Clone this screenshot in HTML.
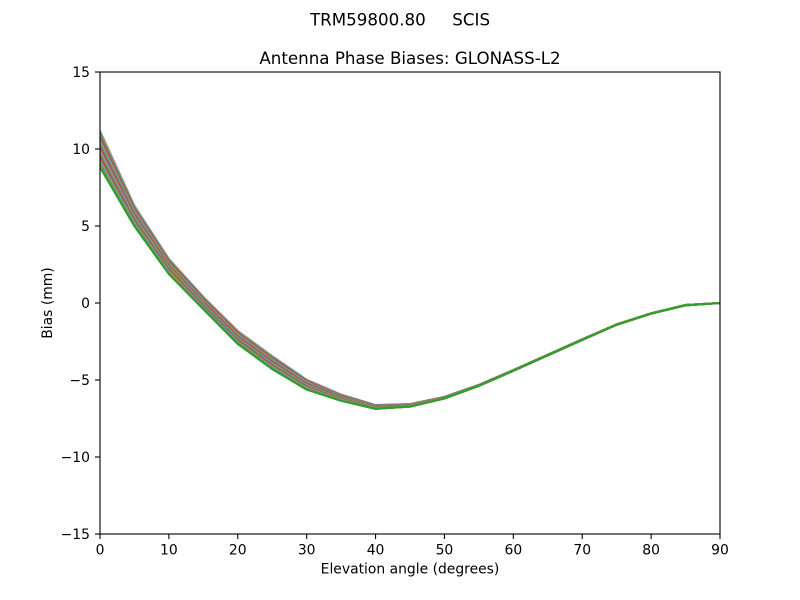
<!DOCTYPE html>
<html>
<head>
<meta charset="utf-8">
<style>
  html, body { margin: 0; padding: 0; background: #fff; }
  svg { display: block; }
  text { font-family: "DejaVu Sans", "Liberation Sans", sans-serif; fill: #000; }
</style>
</head>
<body>
<svg id="chart" width="800" height="600" viewBox="0 0 800 600" xmlns="http://www.w3.org/2000/svg">
  <rect x="0" y="0" width="800" height="600" fill="#fff"/>
  <text x="400" y="25.5" font-size="16.7" text-anchor="middle" style="white-space:pre">TRM59800.80     SCIS</text>
  <text x="410" y="64" font-size="16.7" text-anchor="middle">Antenna Phase Biases: GLONASS-L2</text>

  <defs>
    <clipPath id="clip"><rect x="100" y="72" width="620" height="462"/></clipPath>
  </defs>
  <g id="lines" clip-path="url(#clip)" fill="none" stroke-width="2.08" stroke-linejoin="round" stroke-linecap="square"></g>

  <!-- spines -->
  <rect x="100" y="72" width="620" height="462" fill="none" stroke="#000" stroke-width="1.1"/>

  <!-- y ticks -->
  <g stroke="#000" stroke-width="1.1">
    <line x1="95" y1="72" x2="100" y2="72"/>
    <line x1="95" y1="149" x2="100" y2="149"/>
    <line x1="95" y1="226" x2="100" y2="226"/>
    <line x1="95" y1="303" x2="100" y2="303"/>
    <line x1="95" y1="380" x2="100" y2="380"/>
    <line x1="95" y1="457" x2="100" y2="457"/>
    <line x1="95" y1="534" x2="100" y2="534"/>
  </g>
  <g font-size="13.9" text-anchor="end">
    <text x="90" y="77">15</text>
    <text x="90" y="154">10</text>
    <text x="90" y="231">5</text>
    <text x="90" y="308">0</text>
    <text x="90" y="385">−5</text>
    <text x="90" y="462">−10</text>
    <text x="90" y="539">−15</text>
  </g>

  <!-- x ticks -->
  <g stroke="#000" stroke-width="1.1">
    <line x1="100" y1="534" x2="100" y2="539"/>
    <line x1="168.89" y1="534" x2="168.89" y2="539"/>
    <line x1="237.78" y1="534" x2="237.78" y2="539"/>
    <line x1="306.67" y1="534" x2="306.67" y2="539"/>
    <line x1="375.56" y1="534" x2="375.56" y2="539"/>
    <line x1="444.44" y1="534" x2="444.44" y2="539"/>
    <line x1="513.33" y1="534" x2="513.33" y2="539"/>
    <line x1="582.22" y1="534" x2="582.22" y2="539"/>
    <line x1="651.11" y1="534" x2="651.11" y2="539"/>
    <line x1="720" y1="534" x2="720" y2="539"/>
  </g>
  <g font-size="13.9" text-anchor="middle">
    <text x="100" y="554.5">0</text>
    <text x="168.89" y="554.5">10</text>
    <text x="237.78" y="554.5">20</text>
    <text x="306.67" y="554.5">30</text>
    <text x="375.56" y="554.5">40</text>
    <text x="444.44" y="554.5">50</text>
    <text x="513.33" y="554.5">60</text>
    <text x="582.22" y="554.5">70</text>
    <text x="651.11" y="554.5">80</text>
    <text x="720" y="554.5">90</text>
  </g>

  <text x="410" y="573.5" font-size="13.9" text-anchor="middle">Elevation angle (degrees)</text>
  <text x="0" y="0" font-size="13.9" text-anchor="middle" transform="translate(52,303) rotate(-90)">Bias (mm)</text>
</svg>
<script>
(function(){
  var mean = [10.0, 5.65, 2.37, 0.0, -2.24, -3.87, -5.3, -6.15, -6.75, -6.65, -6.15, -5.35, -4.38, -3.38, -2.38, -1.4, -0.68, -0.14, 0.0];
  var hw   = [1.17, 0.66, 0.49, 0.4, 0.42, 0.42, 0.32, 0.2, 0.12, 0.08, 0.05, 0.03, 0.02, 0.02, 0.02, 0.01, 0.01, 0.01, 0.0];
  var colors = ["#1f77b4","#ff7f0e","#2ca02c","#d62728","#9467bd","#8c564b","#e377c2","#7f7f7f","#bcbd22","#17becf"];
  var g = document.getElementById("lines");
  var ns = "http://www.w3.org/2000/svg";
  for (var k = 0; k <= 72; k++) {
    var az = k * 5;
    var f = 1 - 2 * Math.abs(az - 180) / 180; // triangle: -1 at 0/360, +1 at 180
    var pts = [];
    for (var i = 0; i < mean.length; i++) {
      var v = mean[i] + hw[i] * f;
      var px = 100 + (i * 5) * 620 / 90;
      var py = 72 + (15 - v) * 15.4;
      pts.push(px.toFixed(2) + "," + py.toFixed(2));
    }
    var pl = document.createElementNS(ns, "polyline");
    pl.setAttribute("points", pts.join(" "));
    pl.setAttribute("stroke", colors[k % 10]);
    g.appendChild(pl);
  }
})();
</script>
</body>
</html>
